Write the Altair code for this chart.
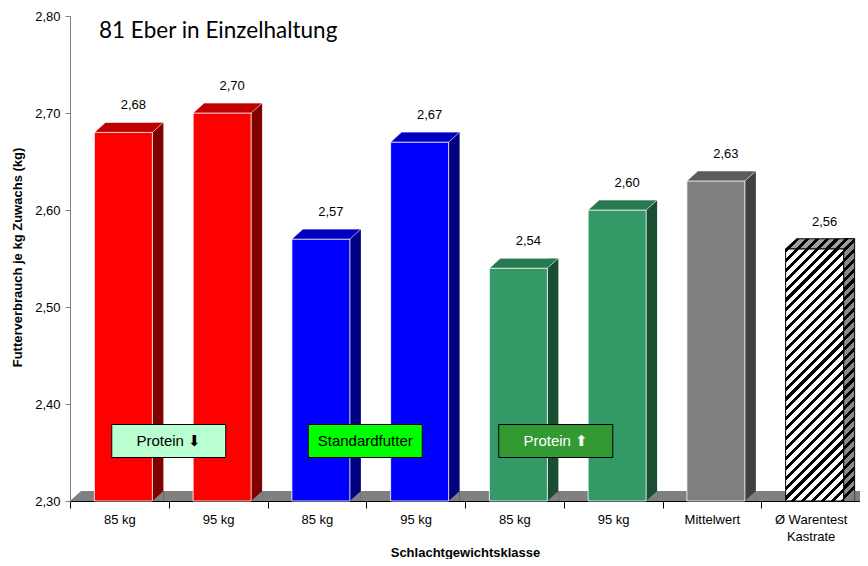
import json
import math
import altair as alt
import pandas as pd

# ---------------- data ----------------
title_text = "81 Eber in Einzelhaltung"
categories = ["85 kg", "95 kg", "85 kg", "95 kg", "85 kg", "95 kg", "Mittelwert", "Ø Warentest|Kastrate"]
values = [2.68, 2.70, 2.57, 2.67, 2.54, 2.60, 2.63, 2.56]
y_ticks = [2.30, 2.40, 2.50, 2.60, 2.70, 2.80]
box_texts = ["Protein ⬇", "Standardfutter", "Protein ⬆"]
box_anchor = [1, 3, 5]  # box sits on the boundary before this category

# ---------------- styles ----------------
front_colors = ["#ff0000", "#ff0000", "#0000ff", "#0000ff", "#339966", "#339966", "#808080", "#ffffff"]
top_colors = ["#c00000", "#c00000", "#0000c0", "#0000c0", "#28794f", "#28794f", "#5c5c5c", "#a0a0a0"]
side_colors = ["#800000", "#800000", "#000080", "#000080", "#1b4d33", "#1b4d33", "#404040", "#808080"]
box_fills = ["#b9ffd0", "#00ff00", "#339933"]
box_text_colors = ["#000000", "#000000", "#ffffff"]
box_dx = [0, -1, -8]
FLOOR = "#808080"
FONT = "Liberation Sans"
W, H = 790, 485
Y_MIN, Y_MAX = 2.30, 2.80
BAR_W, DEPTH_X, DEPTH_Y, SHIFT = 58, 11, 10, 4
PX_PER_UNIT = H / (Y_MAX - Y_MIN)

keys = [str(i) for i in range(len(values))]
hatched = keys[-1]

df = pd.DataFrame({
    "key": keys,
    "value": values,
    "front": front_colors,
    "top": top_colors,
    "side": side_colors,
})


def hatch(w, h, dark, light, period=7.0, frac=0.42):
    """Diagonal '/' stripes as a linear gradient in bounding-box units."""
    L = (w + h) / math.sqrt(2)
    c = (1 / h + 1 / w) / (1 / h ** 2 + 1 / w ** 2)
    a, b = c / h, c / w
    stops = []
    k = 0
    while k * period < L:
        o0 = min(1, k * period / L)
        o1 = min(1, (k + frac) * period / L)
        o2 = min(1, (k + 1) * period / L)
        stops += [(o0, dark), (o1, dark), (o1, light), (o2, light)]
        k += 1
    return alt.LinearGradient(
        gradient="linear", x1=0, y1=0, x2=a, y2=b,
        stops=[alt.GradientStop(offset=o, color=col) for o, col in stops],
    )


h_val = values[-1]
front_h = (h_val - Y_MIN) * PX_PER_UNIT

x_lines = [c.split("|") for c in categories]
x_label_expr = json.dumps(x_lines, ensure_ascii=False) + "[toNumber(datum.value)]"

x_scale = alt.Scale(domain=keys, paddingInner=0, paddingOuter=0)
x_axis = alt.Axis(
    title="Schlachtgewichtsklasse", labelExpr=x_label_expr, labelAngle=0,
    tickBand="extent", tickSize=7, tickColor="#000000", domainColor="#000000",
    labelFontSize=13, labelPadding=5, labelLineHeight=17, labelColor="#000000",
    titleFontSize=13, titleFontWeight="bold", titleY=45, titleColor="#000000",
)
y_axis = alt.Axis(
    title="Futterverbrauch je kg Zuwachs (kg)", values=y_ticks,
    labelExpr="replace(format(datum.value, '.2f'), '.', ',')",
    tickSize=5, tickColor="#808080", domainColor="#808080", grid=False,
    labelFontSize=13, labelPadding=5, labelColor="#000000",
    titleFontSize=13, titleFontWeight="bold", titleX=-53, titleY=241,
    titleBaseline="middle", titleColor="#000000",
)
x_enc = alt.X("key:N", sort=keys, scale=x_scale, axis=x_axis)
y_enc = alt.Y("value:Q", scale=alt.Scale(domain=[Y_MIN, Y_MAX], nice=False, zero=False), axis=y_axis)
base_y = alt.Y(datum=Y_MIN, type="quantitative")

base = alt.Chart(df).encode(x=x_enc, y=y_enc)
solid = base.transform_filter(f"datum.key != '{hatched}'")
hatch_only = base.transform_filter(f"datum.key == '{hatched}'")

# floor (gray plane)
floor = base.transform_filter("datum.key == '0'").mark_point(
    shape=f"M0,0 L{W},0 L{W},-{DEPTH_Y} L{DEPTH_X},-{DEPTH_Y} Z",
    size=4, filled=True, opacity=1, fill=FLOOR, strokeWidth=0,
).encode(x=alt.value(0), y=base_y)

side_x = SHIFT + BAR_W / 2 + DEPTH_X / 2
side = solid.mark_bar(width=DEPTH_X, xOffset=side_x, yOffset=-DEPTH_Y).encode(
    y2=alt.Y2(datum=Y_MIN), fill=alt.Fill("side:N", scale=None))
side_h = hatch_only.mark_bar(
    width=DEPTH_X, xOffset=side_x, yOffset=-DEPTH_Y,
    fill=hatch(DEPTH_X, front_h + DEPTH_Y, "#000000", "#8a8a8a"),
    stroke="#000000", strokeWidth=1,
).encode(y2=alt.Y2(datum=Y_MIN))

hb = BAR_W / 2
tri = base.mark_point(
    shape=f"M{hb},0 L{hb + DEPTH_X},-{DEPTH_Y} L{hb + DEPTH_X},0 Z",
    size=4, filled=True, opacity=1, fill=FLOOR, strokeWidth=0, xOffset=SHIFT,
).encode(y=base_y)

front = solid.mark_bar(
    width=BAR_W, xOffset=SHIFT, stroke="#ffffff", strokeWidth=1, strokeOpacity=0.8,
).encode(y2=alt.Y2(datum=Y_MIN), fill=alt.Fill("front:N", scale=None))
front_h_layer = hatch_only.mark_bar(
    width=BAR_W, xOffset=SHIFT, stroke="#000000", strokeWidth=1,
    fill=hatch(BAR_W, front_h, "#000000", "#ffffff"),
).encode(y2=alt.Y2(datum=Y_MIN))

top_path = f"M-{hb},0 L{hb},0 L{hb + DEPTH_X},-{DEPTH_Y} L{-hb + DEPTH_X},-{DEPTH_Y} Z"
top = solid.mark_point(
    shape=top_path, size=4, filled=True, opacity=1, xOffset=SHIFT,
    stroke="#ffffff", strokeWidth=0.8, strokeOpacity=0.8,
).encode(fill=alt.Fill("top:N", scale=None))
top_h = hatch_only.mark_point(
    shape=top_path, size=4, filled=True, opacity=1, xOffset=SHIFT,
    stroke="#000000", strokeWidth=1,
    fill=hatch(BAR_W + DEPTH_X, DEPTH_Y, "#000000", "#a0a0a0"),
)

labels = base.transform_calculate(
    lbl="replace(format(datum.value, '.2f'), '.', ',')"
).mark_text(dx=10 + SHIFT, dy=-27, fontSize=13, font=FONT, color="#000000").encode(text="lbl:N")

box_df = pd.DataFrame({
    "key": [keys[i] for i in box_anchor],
    "text": box_texts,
    "fill": box_fills,
    "tc": box_text_colors,
})
x_box = x_enc.copy()
x_box.bandPosition = 0
box_layers = []
for i in range(len(box_texts)):
    bd = alt.Chart(box_df.iloc[[i]]).encode(x=x_box, y=alt.value(425))
    box_layers.append(bd.mark_point(
        shape="M-57,-16.5 H57 V16.5 H-57 Z", size=4, filled=True, opacity=1,
        stroke="#000000", strokeWidth=1, xOffset=box_dx[i],
    ).encode(fill=alt.Fill("fill:N", scale=None)))
    box_layers.append(bd.mark_text(fontSize=15, font=FONT, dx=box_dx[i]).encode(
        text="text:N", color=alt.Color("tc:N", scale=None)))

title = alt.Chart(pd.DataFrame({"t": [title_text]})).mark_text(
    align="left", baseline="alphabetic", fontSize=22.5, font="Lato", color="#000000",
).encode(x=alt.value(29), y=alt.value(22), text="t:N")

chart = alt.layer(
    floor, side, side_h, tri, front, front_h_layer, top, top_h, labels, *box_layers, title
).properties(
    width=W, height=H,
    padding={"left": 62, "top": 8, "right": 0, "bottom": 58},
    autosize=alt.AutoSizeParams(type="none"),
).configure_view(stroke=None).configure_axis(labelFont=FONT, titleFont=FONT)

chart.save("out.html", embed_options={"renderer": "svg", "actions": False})
